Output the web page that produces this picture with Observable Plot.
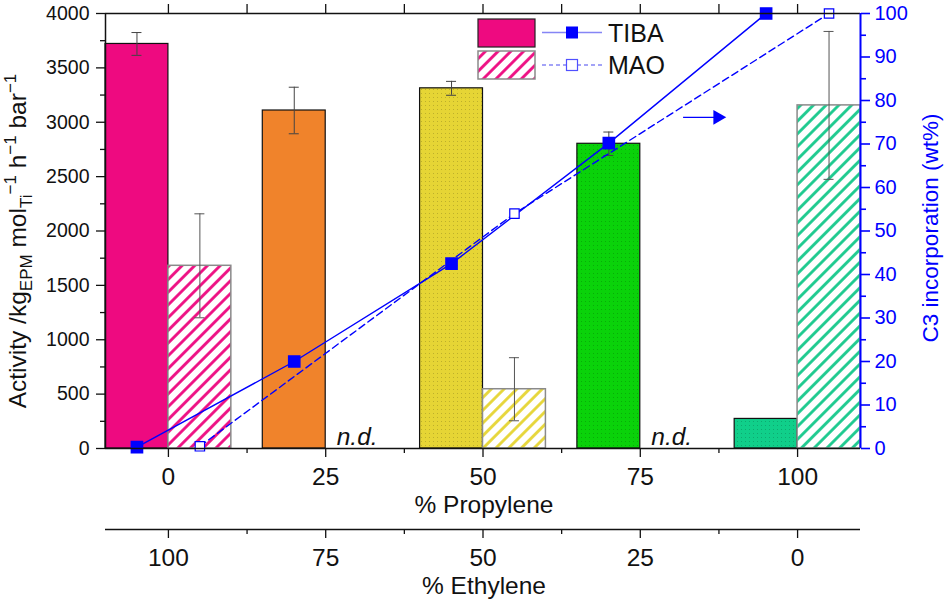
<!DOCTYPE html>
<html>
<head>
<meta charset="utf-8">
<script src="https://cdn.jsdelivr.net/npm/d3@7"></script>
<script src="https://cdn.jsdelivr.net/npm/@observablehq/plot@0.6"></script>
<style>
  html, body { margin: 0; padding: 0; background: white; }
  #chart { position: relative; width: 950px; height: 603px; }
  svg { font-family: "Liberation Sans", Arial, sans-serif; }
</style>
</head>
<body>
<div id="chart"></div>
<script>
// ---- data ----
const propylene = [0, 25, 50, 75, 100];
const ethyleneLabels = [100, 75, 50, 25, 0];
const tibaActivity = [3720, 3108, 3312, 2802, 272];
const tibaError = [105, 214, 64, 108, null];
const maoActivity = [1680, null, 545, null, 3155];
const maoError = [478, null, 290, null, 680];
const tibaC3 = [0.3, 20, 42.5, 70.2, 100];
const maoC3 = [0.5, null, 54, null, 100];
const barColors = ["#ee0a80", "#f0832b", "#e6d535", "#0ad20a", "#10cf8a"];
const hatchColors = ["#ee0a80", "#f0832b", "#e6d535", "#0ad20a", "#18c98c"];
const ndLabel = "n.d.";
const arrowData = [{x1: 81.8, x2: 87.3, y: 3045}];

const leftTicks = d3.range(0, 4001, 500);
const leftMinor = d3.range(250, 4000, 500);
const rightTicks = d3.range(0, 101, 10);
const rightMinor = d3.range(5, 100, 10);
const xMinor = [12.5, 37.5, 62.5, 87.5];
const xTop = d3.range(0, 100.1, 12.5);

const C3SCALE = 40; // 100 wt% maps to 4000 on the left scale

// ---- build table ----
const rows = propylene.map((p, i) => ({
  p, i,
  tiba: tibaActivity[i], tibaErr: tibaError[i],
  mao: maoActivity[i], maoErr: maoError[i],
  tibaC3: tibaC3[i], maoC3: maoC3[i],
  color: barColors[i]
}));
const BW = 10; // bar width in % propylene units
const tibaBars = rows.map(r => ({...r, x1: r.p - BW, x2: r.p, xc: r.p - BW / 2}));
const maoBars = rows.filter(r => r.mao != null).map(r => ({...r, x1: r.p, x2: r.p + BW, xc: r.p + BW / 2}));
const ndRows = rows.filter(r => r.mao == null).map(r => ({...r, xc: r.p + BW / 2}));
const tibaLine = rows.map(r => ({x: r.p - BW / 2, y: r.tibaC3 * C3SCALE}));
const maoLine = rows.filter(r => r.maoC3 != null).map(r => ({x: r.p + BW / 2, y: r.maoC3 * C3SCALE}));
const tibaErrRows = tibaBars.filter(r => r.tibaErr != null);
const maoErrRows = maoBars.filter(r => r.maoErr != null);

const dotted = new Set([2, 3, 4]);
const BLUE = "#0000ff";

const svg = Plot.plot({
  width: 950,
  height: 603,
  marginLeft: 105,
  marginRight: 90,
  marginTop: 13,
  marginBottom: 155,
  style: {fontFamily: '"Liberation Sans", Arial, sans-serif', background: "white", overflow: "visible"},
  x: {domain: [-10, 110], label: null},
  y: {domain: [0, 4000], label: null},
  color: {type: "identity"},
  marks: [
    // bars
    Plot.rectY(tibaBars, {x1: "x1", x2: "x2", y: "tiba",
      fill: d => dotted.has(d.i) ? `url(#dots${d.i})` : d.color,
      stroke: "#111", strokeWidth: 1.2}),
    Plot.rectY(maoBars, {x1: "x1", x2: "x2", y: "mao",
      fill: d => `url(#hatch${d.i})`, stroke: "#8a8a8a", strokeWidth: 1.5}),
    // error bars
    Plot.ruleX(tibaErrRows, {x: "xc", y1: d => d.tiba - d.tibaErr, y2: d => d.tiba + d.tibaErr, stroke: "#444", strokeWidth: 1}),
    Plot.ruleY(tibaErrRows, {y: d => d.tiba - d.tibaErr, x1: "xc", x2: "xc", insetLeft: -5, insetRight: -5, stroke: "#444", strokeWidth: 1}),
    Plot.ruleY(tibaErrRows, {y: d => d.tiba + d.tibaErr, x1: "xc", x2: "xc", insetLeft: -5, insetRight: -5, stroke: "#444", strokeWidth: 1}),
    Plot.ruleX(maoErrRows, {x: "xc", y1: d => d.mao - d.maoErr, y2: d => d.mao + d.maoErr, stroke: "#555", strokeWidth: 1}),
    Plot.ruleY(maoErrRows, {y: d => d.mao - d.maoErr, x1: "xc", x2: "xc", insetLeft: -5, insetRight: -5, stroke: "#555", strokeWidth: 1}),
    Plot.ruleY(maoErrRows, {y: d => d.mao + d.maoErr, x1: "xc", x2: "xc", insetLeft: -5, insetRight: -5, stroke: "#555", strokeWidth: 1}),
    // n.d. labels
    Plot.text(ndRows, {x: "xc", y: 0, text: () => ndLabel, fontStyle: "italic", fontSize: 24.5, lineAnchor: "bottom", dy: -4, fill: "#111"}),
    // C3 lines
    Plot.line(maoLine, {x: "x", y: "y", stroke: BLUE, strokeWidth: 1.4, strokeDasharray: "7,4"}),
    Plot.line(tibaLine, {x: "x", y: "y", stroke: BLUE, strokeWidth: 1.4}),
    Plot.dot(maoLine, {x: "x", y: "y", symbol: "square", r: 5.3, fill: "white", stroke: BLUE, strokeWidth: 1.2}),
    Plot.dot(tibaLine, {x: "x", y: "y", symbol: "square", r: 6.3, fill: BLUE, stroke: BLUE}),
    // arrow
    Plot.link(arrowData, {x1: "x1", x2: "x2", y1: "y", y2: "y", stroke: BLUE, strokeWidth: 1.4}),
    Plot.dot(arrowData, {x: "x2", y: "y", symbol: "triangle", rotate: 90, r: 5.5, fill: BLUE, stroke: "none"}),
    // frame lines
    Plot.ruleY([0, 4000], {stroke: "#111", strokeWidth: 1.5}),
    Plot.ruleX([-10], {stroke: "#111", strokeWidth: 1.5}),
    Plot.ruleX([110], {stroke: BLUE, strokeWidth: 2}),
    // left axis
    Plot.axisY(leftTicks, {anchor: "left", tickSize: 9, tickPadding: 7, fontSize: 19.5, tickFormat: d => String(d), stroke: "#111", fill: "#111", strokeWidth: 1.3}),
    Plot.axisY(leftMinor, {anchor: "left", tickSize: 5, tickFormat: () => "", stroke: "#111", strokeWidth: 1.3}),
    // right axis (C3 wt%)
    Plot.axisY(rightTicks.map(v => v * C3SCALE), {anchor: "right", tickSize: 9, tickPadding: 5, fontSize: 20, tickFormat: d => String(d / C3SCALE), color: BLUE, strokeWidth: 1.6}),
    Plot.axisY(rightMinor.map(v => v * C3SCALE), {anchor: "right", tickSize: 5, tickFormat: () => "", color: BLUE, strokeWidth: 1.6}),
    // bottom axis (% propylene)
    Plot.axisX(propylene, {anchor: "bottom", tickSize: 9, tickPadding: 10, fontSize: 24.5, tickFormat: d => String(d), stroke: "#111", fill: "#111", strokeWidth: 1.3}),
    Plot.axisX(xMinor, {anchor: "bottom", tickSize: 5, tickFormat: () => "", stroke: "#111", strokeWidth: 1.3}),
    // top ticks
    Plot.axisX(xTop, {anchor: "top", tickSize: 10, tickFormat: () => "", stroke: "#111", strokeWidth: 1.3}),
    // second axis (% ethylene)
    Plot.ruleY([0], {dy: 81, stroke: "#111", strokeWidth: 1.5}),
    Plot.axisX(propylene, {anchor: "bottom", dy: 81, tickSize: 9, tickPadding: 10, fontSize: 24.5,
      tickFormat: d => String(ethyleneLabels[propylene.indexOf(d)]), stroke: "#111", fill: "#111", strokeWidth: 1.3}),
    Plot.axisX(xMinor, {anchor: "bottom", dy: 81, tickSize: 5, tickFormat: () => "", stroke: "#111", strokeWidth: 1.3})
  ]
});

const root = d3.select(svg);
// ---- pattern defs ----
const defs = root.insert("defs", ":first-child");
hatchColors.forEach((c, i) => {
  const p = defs.append("pattern").attr("id", `hatch${i}`)
    .attr("patternUnits", "userSpaceOnUse").attr("width", 9).attr("height", 9)
    .attr("patternTransform", "rotate(45)");
  p.append("rect").attr("width", 9).attr("height", 9).attr("fill", "white");
  p.append("line").attr("x1", 1.5).attr("y1", 0).attr("x2", 1.5).attr("y2", 9)
    .attr("stroke", c).attr("stroke-width", 2.8);
});
barColors.forEach((c, i) => {
  const p = defs.append("pattern").attr("id", `dots${i}`)
    .attr("patternUnits", "userSpaceOnUse").attr("width", 4).attr("height", 4);
  p.append("rect").attr("width", 4).attr("height", 4).attr("fill", c);
  p.append("rect").attr("x", 1).attr("y", 1).attr("width", 1).attr("height", 1).attr("fill", "rgba(0,0,0,0.18)");
});

// ---- axis titles ----
const yTitle = root.append("text")
  .attr("transform", "translate(26,241) rotate(-90)")
  .attr("text-anchor", "middle").attr("font-size", 24.5).attr("fill", "#111");
yTitle.append("tspan").text("Activity /kg");
yTitle.append("tspan").attr("font-size", 17).attr("dy", 6).text("EPM");
yTitle.append("tspan").attr("dy", -6).text(" mol");
yTitle.append("tspan").attr("font-size", 17).attr("dy", 6).text("Ti");
yTitle.append("tspan").attr("font-size", 17).attr("dy", -16).text("\u22121");
yTitle.append("tspan").attr("dy", 10).text(" h");
yTitle.append("tspan").attr("font-size", 17).attr("dy", -10).text("\u22121");
yTitle.append("tspan").attr("dy", 10).text(" bar");
yTitle.append("tspan").attr("font-size", 17).attr("dy", -10).text("\u22121");

root.append("text")
  .attr("transform", "translate(938,228) rotate(-90)")
  .attr("text-anchor", "middle").attr("font-size", 22.5).attr("fill", BLUE)
  .text("C3 incorporation (wt%)");

root.append("text").attr("x", 484).attr("y", 513).attr("text-anchor", "middle")
  .attr("font-size", 24.5).attr("fill", "#111").text("% Propylene");
root.append("text").attr("x", 484).attr("y", 594).attr("text-anchor", "middle")
  .attr("font-size", 24.5).attr("fill", "#111").text("% Ethylene");

// ---- legend ----
const lg = root.append("g").attr("text-anchor", "start");
lg.append("rect").attr("x", 478).attr("y", 19).attr("width", 57).attr("height", 28)
  .attr("fill", barColors[0]).attr("stroke", "#222").attr("stroke-width", 1.2);
lg.append("rect").attr("x", 478).attr("y", 51).attr("width", 57).attr("height", 28)
  .attr("fill", "url(#hatch0)").attr("stroke", "#8a8a8a").attr("stroke-width", 1.5);
lg.append("line").attr("x1", 542).attr("x2", 602).attr("y1", 32.5).attr("y2", 32.5)
  .attr("stroke", "#8585f5").attr("stroke-width", 1.4);
lg.append("rect").attr("x", 566).attr("y", 26.5).attr("width", 12).attr("height", 12).attr("fill", BLUE);
lg.append("line").attr("x1", 542).attr("x2", 602).attr("y1", 65).attr("y2", 65)
  .attr("stroke", "#8585f5").attr("stroke-width", 1.4).attr("stroke-dasharray", "4,3");
lg.append("rect").attr("x", 566.5).attr("y", 59.5).attr("width", 11).attr("height", 11)
  .attr("fill", "white").attr("stroke", "#5050ff").attr("stroke-width", 1.2);
lg.append("text").attr("x", 608).attr("y", 42).attr("text-anchor", "start").attr("font-size", 25).attr("fill", "#111").text("TIBA");
lg.append("text").attr("x", 608).attr("y", 74).attr("text-anchor", "start").attr("font-size", 25).attr("fill", "#111").text("MAO");

document.getElementById("chart").appendChild(svg);
</script>
</body>
</html>
